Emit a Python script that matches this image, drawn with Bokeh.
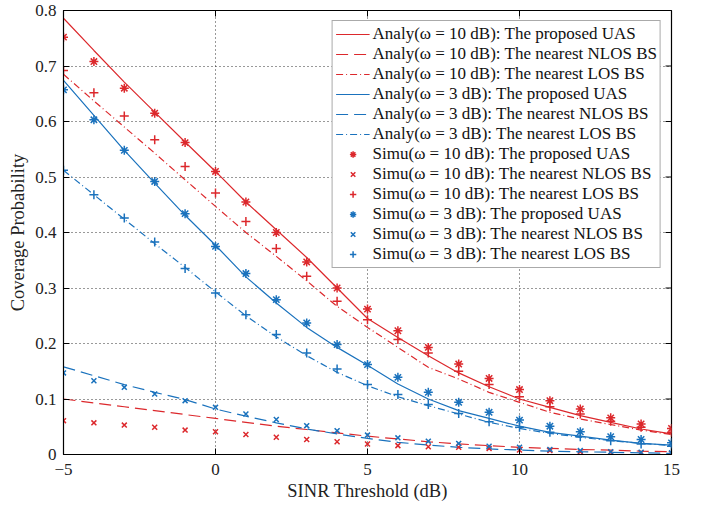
import math
from bokeh.plotting import figure
from bokeh.models import Legend, LegendItem, FixedTicker, Range1d
from bokeh.embed import file_html
from bokeh.resources import INLINE

# ---------------- data ----------------
snr = list(range(-5, 16))

# analytical curves
ana10_uas = [0.786, 0.728, 0.671, 0.617, 0.563, 0.510, 0.455, 0.405, 0.355, 0.300, 0.245,
             0.211, 0.178, 0.147, 0.122, 0.100, 0.085, 0.070, 0.058, 0.046, 0.037]
ana10_nlos = [0.100, 0.093, 0.086, 0.079, 0.072, 0.065, 0.058, 0.051, 0.045, 0.039, 0.033,
              0.028, 0.023, 0.019, 0.016, 0.013, 0.011, 0.009, 0.008, 0.006, 0.005]
ana10_los = [0.685, 0.637, 0.590, 0.543, 0.495, 0.447, 0.400, 0.357, 0.313, 0.267, 0.229,
             0.193, 0.157, 0.136, 0.112, 0.094, 0.076, 0.064, 0.054, 0.044, 0.036]
ana3_uas = [0.674, 0.611, 0.548, 0.489, 0.431, 0.377, 0.320, 0.273, 0.229, 0.193, 0.161,
            0.127, 0.100, 0.079, 0.065, 0.051, 0.040, 0.033, 0.026, 0.020, 0.017]
ana3_nlos = [0.158, 0.142, 0.126, 0.112, 0.099, 0.082, 0.069, 0.057, 0.046, 0.037, 0.029,
             0.022, 0.017, 0.013, 0.010, 0.008, 0.006, 0.005, 0.004, 0.003, 0.002]
ana3_los = [0.512, 0.468, 0.424, 0.380, 0.337, 0.293, 0.250, 0.212, 0.178, 0.148, 0.124,
            0.104, 0.088, 0.073, 0.058, 0.047, 0.038, 0.031, 0.025, 0.020, 0.016]

# simulation points
sim10_uas = [0.752, 0.708, 0.660, 0.615, 0.562, 0.510, 0.455, 0.400, 0.347, 0.300, 0.262,
             0.223, 0.193, 0.163, 0.137, 0.117, 0.097, 0.082, 0.066, 0.055, 0.047]
sim10_nlos = [0.061, 0.057, 0.053, 0.049, 0.044, 0.041, 0.036, 0.031, 0.027, 0.023, 0.019,
              0.016, 0.014, 0.013, 0.011, 0.008, 0.007, 0.005, 0.004, 0.003, 0.002]
sim10_los = [0.692, 0.652, 0.610, 0.567, 0.519, 0.471, 0.420, 0.371, 0.321, 0.276, 0.243,
             0.207, 0.183, 0.150, 0.126, 0.104, 0.086, 0.073, 0.060, 0.049, 0.040]
sim3_uas = [0.657, 0.603, 0.548, 0.492, 0.434, 0.375, 0.326, 0.279, 0.237, 0.198, 0.162,
            0.139, 0.112, 0.094, 0.076, 0.062, 0.051, 0.041, 0.032, 0.027, 0.021]
sim3_nlos = [0.147, 0.133, 0.121, 0.109, 0.097, 0.085, 0.073, 0.063, 0.052, 0.043, 0.035,
             0.030, 0.024, 0.020, 0.015, 0.013, 0.009, 0.007, 0.005, 0.004, 0.003]
sim3_los = [0.512, 0.468, 0.426, 0.383, 0.335, 0.291, 0.252, 0.216, 0.183, 0.154, 0.126,
            0.108, 0.090, 0.074, 0.059, 0.049, 0.040, 0.032, 0.025, 0.019, 0.015]

x_ticks = [-5, 0, 5, 10, 15]
y_ticks = [0, 0.1, 0.2, 0.3, 0.4, 0.5, 0.6, 0.7, 0.8]

labels = [
    "Analy(ω = 10 dB): The proposed UAS",
    "Analy(ω = 10 dB): The nearest NLOS BS",
    "Analy(ω = 10 dB): The nearest LOS BS",
    "Analy(ω = 3 dB): The proposed UAS",
    "Analy(ω = 3 dB): The nearest NLOS BS",
    "Analy(ω = 3 dB): The nearest LOS BS",
    "Simu(ω = 10 dB): The proposed UAS",
    "Simu(ω = 10 dB): The nearest NLOS BS",
    "Simu(ω = 10 dB): The nearest LOS BS",
    "Simu(ω = 3 dB): The proposed UAS",
    "Simu(ω = 3 dB): The nearest NLOS BS",
    "Simu(ω = 3 dB): The nearest LOS BS",
]

RED = "#DC282C"
BLUE = "#1A72BD"
FONT = "Liberation Serif"
XMIN, XMAX, YMIN, YMAX = -5, 15, 0, 0.8

p = figure(width=709, height=506, output_backend="svg", toolbar_location=None,
           x_range=Range1d(XMIN, XMAX), y_range=Range1d(YMIN, YMAX),
           min_border_left=63, min_border_right=38, min_border_top=10, min_border_bottom=52)
p.background_fill_color = "white"
p.border_fill_color = "white"
p.outline_line_color = "black"
p.outline_line_width = 1.2

for ax in (p.xaxis[0], p.yaxis[0]):
    ax.major_tick_in = 6
    ax.major_tick_out = 0
    ax.minor_tick_in = 0
    ax.minor_tick_out = 0
    ax.axis_line_color = "black"
    ax.major_tick_line_color = "black"
    ax.major_label_text_font = FONT
    ax.major_label_text_font_size = "17px"
    ax.major_label_text_color = "#222222"
    ax.axis_label_text_font = FONT
    ax.axis_label_text_font_size = "18.5px"
    ax.axis_label_text_font_style = "normal"
    ax.axis_label_text_color = "#222222"

p.xaxis.ticker = FixedTicker(ticks=x_ticks)
p.yaxis.ticker = FixedTicker(ticks=y_ticks)
p.yaxis.major_label_overrides = {0: "0"}
p.xaxis.axis_label = "SINR Threshold (dB)"
p.yaxis.axis_label = "Coverage Probability"
p.xaxis.major_label_standoff = 9
p.yaxis.major_label_standoff = 7
p.xaxis.axis_label_standoff = 3
p.yaxis.axis_label_standoff = 4

p.xgrid.ticker = FixedTicker(ticks=x_ticks)
p.ygrid.ticker = FixedTicker(ticks=y_ticks)
p.grid.grid_line_color = "black"
p.grid.grid_line_alpha = 0.8
p.grid.grid_line_dash = "1 3"
p.grid.grid_line_width = 1

# inward ticks on the top and right edges of the box
p.scatter(x_ticks, [YMAX] * len(x_ticks), marker="dash", angle=math.pi / 2, size=12,
          line_color="black", line_width=1)
p.scatter([XMAX] * len(y_ticks), y_ticks, marker="dash", size=12,
          line_color="black", line_width=1)

items = []
series = [
    (ana10_uas, RED, "solid"), (ana10_nlos, RED, "12 6"), (ana10_los, RED, "7 3 1 3"),
    (ana3_uas, BLUE, "solid"), (ana3_nlos, BLUE, "12 6"), (ana3_los, BLUE, "7 3 1 3"),
]
for i, (ys, col, dash) in enumerate(series):
    r = p.line(snr, ys, color=col, line_alpha=1.0, line_width=1.2, line_dash=dash)
    items.append(LegendItem(label=labels[i], renderers=[r]))

sims = [
    (sim10_uas, RED, "asterisk"), (sim10_nlos, RED, "x"), (sim10_los, RED, "cross"),
    (sim3_uas, BLUE, "asterisk"), (sim3_nlos, BLUE, "x"), (sim3_los, BLUE, "cross"),
]
for i, (ys, col, mk) in enumerate(sims):
    sz = 9 if mk != "x" else 7
    r = p.scatter(snr, ys, marker=mk, size=sz, line_color=col, fill_color=col, line_width=1.5)
    items.append(LegendItem(label=labels[6 + i], renderers=[r]))

legend = Legend(items=items, location="top_right")
legend.label_text_font = FONT
legend.label_text_font_size = "17px"
legend.label_text_color = "#111111"
legend.glyph_width = 34
legend.glyph_height = 16
legend.label_height = 16
legend.spacing = -1
legend.padding = 3
legend.margin = 10
legend.label_standoff = 3
legend.border_line_color = "#555555"
legend.border_line_width = 1
legend.background_fill_alpha = 1.0
p.add_layout(legend, "center")

open("out.html", "w").write(file_html(p, INLINE))
